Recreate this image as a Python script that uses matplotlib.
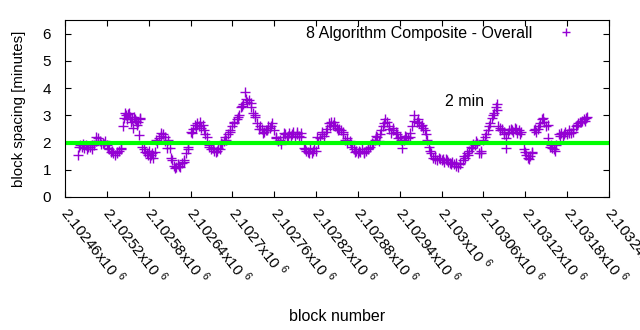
import numpy as np
import matplotlib.pyplot as plt
from matplotlib.ticker import FixedLocator

plt.rcParams['font.family'] = ['Liberation Sans', 'DejaVu Sans']
plt.rcParams['mathtext.fontset'] = 'custom'
plt.rcParams['mathtext.rm'] = 'Liberation Sans'

base_block = 2102460

# block offsets from base_block and spacing in minutes
offsets = [19, 21, 24, 27, 30, 33, 36, 39, 42, 45, 48, 51, 54, 57, 60,
           63, 66, 69, 72, 75, 78, 81, 83, 84, 87, 90, 93, 96, 97, 99,
           102, 105, 106, 108, 111, 114, 117, 120, 122, 123, 126, 129, 132, 135, 138,
           141, 144, 147, 150, 153, 156, 159, 162, 165, 168, 171, 174, 177, 180, 183,
           186, 189, 192, 195, 198, 201, 204, 207, 210, 213, 216, 219, 222, 225, 228,
           231, 234, 237, 240, 243, 246, 249, 252, 255, 258, 261, 264, 267, 270, 273,
           276, 279, 282, 285, 288, 291, 294, 297, 300, 303, 306, 309, 312, 315, 318,
           321, 324, 327, 330, 333, 336, 339, 342, 345, 348, 351, 354, 357, 360, 363,
           366, 369, 372, 375, 378, 381, 384, 387, 390, 393, 396, 399, 402, 405, 408,
           411, 414, 417, 420, 423, 426, 429, 432, 435, 438, 441, 444, 447, 450, 453,
           456, 459, 462, 465, 468, 471, 474, 477, 480, 483, 486, 489, 492, 495, 498,
           501, 504, 507, 510, 513, 516, 519, 522, 525, 528, 531, 534, 537, 540, 543,
           546, 549, 552, 555, 558, 561, 564, 567, 570, 573, 576, 579, 582, 585, 588,
           591, 594, 597, 600, 603, 606, 609, 612, 615, 618, 620, 621, 624, 627, 630,
           632, 633, 636, 639, 642, 645, 648, 651, 654, 658, 661, 664, 667, 670, 672,
           675, 678, 681, 684, 687, 690, 693, 695, 698, 701, 704, 708, 711, 714, 717,
           720, 723, 726, 729, 732, 735, 738, 741, 744, 747, 749]
spacing = [1.55, 1.9, 1.85, 1.8, 1.9, 1.82, 1.85, 1.78, 1.9, 2.05, 2.15, 1.95, 2.0, 2.05, 1.9,
           1.75, 1.65, 1.6, 1.55, 1.65, 1.7, 1.8, 2.6, 2.9, 3.0, 3.05, 2.95, 2.85, 2.55, 2.95,
           2.8, 2.75, 2.27, 2.85, 1.85, 1.65, 1.6, 1.7, 1.43, 1.55, 1.45, 1.65, 2.0, 2.15, 2.25,
           2.3, 2.2, 2.1, 1.8, 1.35, 1.15, 1.1, 1.2, 1.1, 1.25, 1.35, 1.6, 1.85, 2.4, 2.5,
           2.65, 2.7, 2.6, 2.55, 2.65, 2.3, 2.2, 1.9, 1.75, 1.7, 1.65, 1.8, 1.75, 1.95, 2.05,
           2.1, 2.3, 2.4, 2.6, 2.75, 2.85, 3.0, 3.3, 3.4, 3.84, 3.5, 3.55, 3.45, 3.1, 2.95,
           2.7, 2.6, 2.5, 2.4, 2.45, 2.6, 2.55, 2.7, 2.45, 2.15, 2.05, 1.95, 2.2, 2.3, 2.2,
           2.35, 2.25, 2.4, 2.2, 2.3, 2.25, 2.35, 1.8, 1.7, 1.65, 1.75, 1.6, 1.8, 1.7, 2.0,
           2.15, 2.3, 2.25, 2.5, 2.7, 2.75, 2.65, 2.6, 2.55, 2.5, 2.45, 2.4, 2.1, 2.0, 2.05,
           1.85, 1.75, 1.7, 1.6, 1.65, 1.75, 1.6, 1.7, 1.75, 1.85, 1.95, 2.1, 2.2, 2.05, 2.45,
           2.6, 2.85, 2.75, 2.5, 2.35, 2.55, 2.4, 2.15, 2.2, 1.8, 2.1, 2.2, 2.15, 2.35, 2.6,
           3.0, 2.75, 2.7, 2.6, 2.55, 2.45, 2.1, 1.85, 1.6, 1.45, 1.4, 1.35, 1.4, 1.35, 1.3,
           1.4, 1.3, 1.25, 1.3, 1.2, 1.15, 1.1, 1.25, 1.35, 1.45, 1.6, 1.7, 1.85, 1.95, 1.9,
           2.0, 1.6, 1.7, 2.1, 2.3, 2.45, 2.7, 2.9, 3.1, 3.3, 3.4, 2.6, 2.45, 2.5, 2.3,
           1.8, 2.15, 2.45, 2.5, 2.4, 2.55, 2.35, 2.45, 2.4, 1.75, 1.55, 1.45, 1.5, 1.65, 2.45,
           2.4, 2.5, 2.7, 2.85, 2.75, 2.6, 2.15, 1.85, 1.8, 1.75, 1.9, 2.3, 2.35, 2.25, 2.4,
           2.3, 2.45, 2.35, 2.5, 2.6, 2.7, 2.75, 2.8, 2.85, 2.9, 2.95]

# more scattered points inside the dense clusters
extra_offsets = [20, 26, 32, 38, 44, 50, 56, 62, 68, 74, 80, 86, 89, 92, 95,
                 100, 103, 107, 113, 119, 125, 131, 137, 143, 146, 152, 158, 164, 170, 176,
                 182, 188, 194, 200, 206, 212, 218, 224, 230, 236, 242, 248, 254, 260, 266,
                 272, 278, 284, 290, 296, 302, 308, 314, 320, 326, 332, 338, 344, 350, 356,
                 362, 368, 374, 380, 386, 392, 398, 404, 410, 416, 422, 428, 434, 440, 446,
                 452, 458, 464, 470, 476, 482, 488, 494, 500, 506, 512, 518, 524, 530, 536,
                 542, 548, 554, 560, 566, 572, 578, 584, 590, 596, 602, 608, 614, 619, 623,
                 629, 635, 641, 647, 653, 659, 665, 669, 674, 680, 686, 692, 697, 703, 710,
                 716, 722, 728, 734, 740, 746]
extra_spacing = [1.85, 1.95, 1.75, 1.9, 2.2, 2.05, 1.95, 1.8, 1.7, 1.6, 1.75, 3.1, 2.85, 3.1, 2.75,
                 2.85, 2.65, 2.9, 1.75, 1.55, 1.6, 2.1, 2.35, 2.05, 1.8, 1.45, 1.05, 1.15, 1.3, 1.75,
                 2.35, 2.55, 2.75, 2.45, 1.85, 1.8, 1.7, 2.0, 2.2, 2.45, 2.7, 2.95, 3.35, 3.6, 3.3,
                 3.0, 2.5, 2.35, 2.45, 2.6, 2.2, 2.1, 2.35, 2.25, 2.3, 2.4, 2.2, 1.75, 1.6, 1.7,
                 2.2, 2.4, 2.4, 2.6, 2.75, 2.45, 2.3, 2.15, 1.95, 1.65, 1.7, 1.65, 1.8, 2.0, 2.25,
                 2.3, 2.7, 2.6, 2.45, 2.3, 2.1, 2.25, 2.2, 2.8, 2.85, 2.65, 2.3, 1.7, 1.5, 1.45,
                 1.4, 1.35, 1.2, 1.25, 1.2, 1.5, 1.55, 1.8, 2.05, 1.6, 2.2, 2.6, 3.0, 3.2, 2.55,
                 2.4, 2.35, 2.45, 2.5, 2.3, 1.65, 1.4, 1.6, 2.5, 2.6, 2.9, 2.65, 1.9, 1.7, 2.25,
                 2.3, 2.35, 2.4, 2.65, 2.75, 2.8]

tick_blocks = [2102460 + 60 * i for i in range(14)]
tick_labels = ['2.10246', '2.10252', '2.10258', '2.10264', '2.1027', '2.10276', '2.10282',
               '2.10288', '2.10294', '2.103', '2.10306', '2.10312', '2.10318', '2.10324']

blocks = np.array(offsets + extra_offsets) + base_block
values = spacing + extra_spacing

fig = plt.figure(figsize=(6.4, 3.3), dpi=100)
ax = fig.add_axes([65 / 640, 1 - 197 / 330, 544 / 640, 177 / 330])

ax.plot(blocks, values, '+', color='#9400d3', markersize=6.5, mew=1,
        label='8 Algorithm Composite - Overall')
ax.axhline(2, color='#00ff00', lw=3)
ax.text(2103005, 3.5, '2 min', fontsize=11.5, ha='left', va='center')

ax.set_xlim(2102460, 2103240)
ax.set_ylim(0, 6.5)
ax.xaxis.set_major_locator(FixedLocator(tick_blocks))
ax.set_xticklabels([t + r'x10 $^{6}$' for t in tick_labels], rotation=-52,
                   rotation_mode='anchor', ha='left', va='center', fontsize=11)
ax.set_yticks([0, 1, 2, 3, 4, 5, 6])
ax.tick_params(direction='in', top=True, right=True, length=4, labelsize=11)
ax.tick_params(axis='x', pad=9)
ax.tick_params(axis='y', pad=10)

ax.set_ylabel('block spacing [minutes]', fontsize=10.8)
ax.yaxis.set_label_coords(-0.072, 0.5)
ax.set_xlabel('block number', fontsize=11.5)
ax.xaxis.set_label_coords(0.5, -0.63)

ax.legend(loc='upper right', markerfirst=False, frameon=False, fontsize=11.5,
          markerscale=0.9, handlelength=2.2, handletextpad=1.0,
          borderaxespad=0.0, borderpad=0.35, bbox_to_anchor=(0.964, 1.0))

fig.savefig('out.png', dpi=100)
